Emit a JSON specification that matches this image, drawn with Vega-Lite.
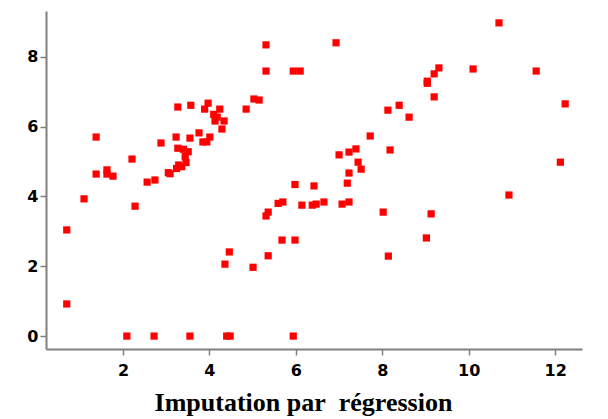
{
  "$schema": "https://vega.github.io/schema/vega-lite/v6.json",
  "width": 536,
  "height": 338,
  "autosize": {"type": "none"},
  "padding": {"left": 46, "top": 11, "right": 26, "bottom": 70},
  "background": "white",
  "config": {"view": {"stroke": null}},
  "data": {"values": [
    {"x": 5.31, "y": 8.34}, {"x": 5.31, "y": 7.59}, {"x": 5.94, "y": 7.59}, {"x": 6.1, "y": 7.59},
    {"x": 5.03, "y": 6.79}, {"x": 5.15, "y": 6.76}, {"x": 4.85, "y": 6.5}, {"x": 3.27, "y": 6.56},
    {"x": 3.57, "y": 6.61}, {"x": 3.97, "y": 6.67}, {"x": 3.89, "y": 6.5}, {"x": 4.24, "y": 6.5},
    {"x": 4.1, "y": 6.35}, {"x": 4.18, "y": 6.27}, {"x": 4.34, "y": 6.16}, {"x": 4.13, "y": 6.16},
    {"x": 4.29, "y": 5.93}, {"x": 3.76, "y": 5.82}, {"x": 4.01, "y": 5.7}, {"x": 3.85, "y": 5.56},
    {"x": 3.94, "y": 5.56}, {"x": 3.23, "y": 5.7}, {"x": 3.55, "y": 5.67}, {"x": 1.38, "y": 5.7},
    {"x": 2.88, "y": 5.53}, {"x": 3.27, "y": 5.38}, {"x": 3.4, "y": 5.35}, {"x": 3.51, "y": 5.28},
    {"x": 3.44, "y": 5.14}, {"x": 3.46, "y": 4.97}, {"x": 3.29, "y": 4.9}, {"x": 3.36, "y": 4.85},
    {"x": 3.24, "y": 4.8}, {"x": 3.05, "y": 4.68}, {"x": 3.09, "y": 4.65}, {"x": 2.21, "y": 5.07},
    {"x": 1.38, "y": 4.64}, {"x": 1.63, "y": 4.76}, {"x": 1.63, "y": 4.64}, {"x": 1.77, "y": 4.58},
    {"x": 2.56, "y": 4.41}, {"x": 2.74, "y": 4.47}, {"x": 1.1, "y": 3.93}, {"x": 2.28, "y": 3.72},
    {"x": 0.7, "y": 3.04}, {"x": 0.7, "y": 0.92},
    {"x": 2.09, "y": 0}, {"x": 2.72, "y": 0}, {"x": 3.55, "y": 0}, {"x": 4.4, "y": 0}, {"x": 4.48, "y": 0}, {"x": 5.94, "y": 0},
    {"x": 4.46, "y": 2.41}, {"x": 4.36, "y": 2.06}, {"x": 5.01, "y": 1.97}, {"x": 5.36, "y": 2.3},
    {"x": 5.68, "y": 2.75}, {"x": 5.98, "y": 2.75}, {"x": 5.31, "y": 3.44}, {"x": 5.36, "y": 3.55},
    {"x": 5.59, "y": 3.8}, {"x": 5.7, "y": 3.84}, {"x": 5.98, "y": 4.34}, {"x": 6.14, "y": 3.75},
    {"x": 6.38, "y": 3.75}, {"x": 6.47, "y": 3.78}, {"x": 6.65, "y": 3.84}, {"x": 6.42, "y": 4.3},
    {"x": 7.07, "y": 3.78}, {"x": 7.23, "y": 3.84}, {"x": 7.19, "y": 4.38}, {"x": 7.23, "y": 4.67},
    {"x": 7.44, "y": 4.98}, {"x": 7.51, "y": 4.78}, {"x": 7.0, "y": 5.19}, {"x": 7.23, "y": 5.27},
    {"x": 7.39, "y": 5.36}, {"x": 7.72, "y": 5.73}, {"x": 8.18, "y": 5.33}, {"x": 8.13, "y": 6.47},
    {"x": 8.39, "y": 6.61}, {"x": 8.62, "y": 6.27}, {"x": 8.02, "y": 3.55}, {"x": 8.14, "y": 2.29},
    {"x": 9.02, "y": 2.81}, {"x": 9.13, "y": 3.5}, {"x": 6.93, "y": 8.4}, {"x": 10.7, "y": 8.97},
    {"x": 9.31, "y": 7.68}, {"x": 9.2, "y": 7.51}, {"x": 9.04, "y": 7.3}, {"x": 9.04, "y": 7.24},
    {"x": 9.2, "y": 6.85}, {"x": 10.1, "y": 7.65}, {"x": 11.56, "y": 7.59}, {"x": 12.23, "y": 6.65},
    {"x": 12.12, "y": 4.98}, {"x": 10.93, "y": 4.04}
  ]},
  "mark": {"type": "square", "filled": true, "color": "#ff0000", "size": 52, "opacity": 1},
  "encoding": {
    "x": {
      "field": "x", "type": "quantitative",
      "scale": {"domain": [0.22, 12.62], "nice": false, "zero": false},
      "axis": {
        "title": "Imputation par\u00a0 régression",
        "values": [2, 4, 6, 8, 10, 12],
        "grid": false,
        "domainColor": "#808080", "domainWidth": 2,
        "tickColor": "#808080", "tickWidth": 1.5, "tickSize": 6,
        "labelFont": "DejaVu Sans", "labelFontWeight": "bold", "labelFontSize": 16, "labelColor": "#000000",
        "labelPadding": 7,
        "titleFont": "Liberation Serif", "titleFontWeight": "bold", "titleFontSize": 26, "titleColor": "#000000",
        "titlePadding": 11, "titleX": 257
      }
    },
    "y": {
      "field": "y", "type": "quantitative",
      "scale": {"domain": [-0.37, 9.31], "nice": false, "zero": false},
      "axis": {
        "title": null,
        "values": [0, 2, 4, 6, 8],
        "grid": false,
        "domainColor": "#808080", "domainWidth": 2,
        "tickColor": "#808080", "tickWidth": 1.5, "tickSize": 6,
        "labelFont": "DejaVu Sans", "labelFontWeight": "bold", "labelFontSize": 16, "labelColor": "#000000",
        "labelPadding": 2
      }
    }
  }
}
